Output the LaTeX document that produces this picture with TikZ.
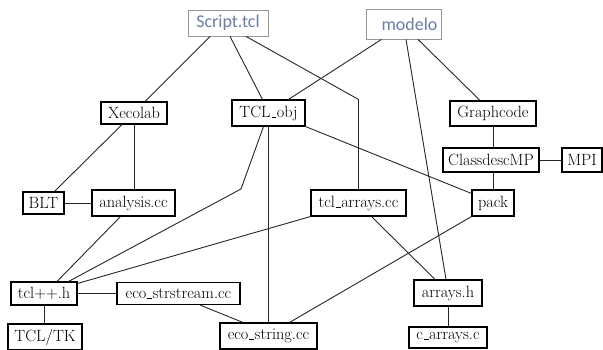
\documentclass[tikz,border=0pt]{standalone}
\usepackage{fontspec}
\newfontfamily\tclsans{Carlito}
\usetikzlibrary{positioning}
\definecolor{scriptblue}{RGB}{105,125,165}
\definecolor{scriptgray}{RGB}{150,150,150}
\newcommand{\us}{\leavevmode\kern.06em\vbox{\hrule width.3em height 0.5pt}\kern.02em}
\tikzstyle{file} = [draw, line width=1.1pt, rectangle, inner sep=0pt, minimum height=24pt, font=\fontsize{16.3}{19}\selectfont]
\tikzstyle{script} = [draw=scriptgray, line width=0.8pt, rectangle, inner sep=0pt, text=scriptblue, font=\tclsans\fontsize{18}{20}\selectfont]
\tikzstyle{dep} = [line width=0.9pt, draw=black!85]

\begin{document}
\begin{tikzpicture}[x=1pt, y=1pt]
\useasboundingbox (0,0) rectangle (603,-349);

\node [script, minimum width=80pt, minimum height=26pt] (script) at (228,-23) {Script.tcl};
\node [script, minimum width=75pt, minimum height=30pt] (modelo) at (403.5,-24) {\hspace{12pt}modelo};

\node [file, minimum width=66pt, minimum height=22pt] (xecolab) at (134,-113) {Xecolab};
\node [file, minimum width=73pt, minimum height=26pt] (tclobj) at (268.5,-113) {TCL\us obj};
\node [file, minimum width=86pt, minimum height=25pt] (graphcode) at (493,-113.5) {Graphcode};
\node [file, minimum width=96pt, below of=graphcode, node distance=46.5pt, xshift=-2pt] (classdesc) {ClassdescMP};
\node [file, minimum width=40pt, right of=classdesc, node distance=91pt] (mpi) {MPI};

\node [file, minimum width=41pt, minimum height=22pt] (blt) at (43.5,-203) {BLT};
\node [file, minimum width=83pt, minimum height=26pt, right of=blt, node distance=90pt] (analysis) {analysis.cc};
\node [file, minimum width=95pt, minimum height=26pt] (tclarrays) at (358.5,-203) {tcl\us arrays.cc};
\node [file, minimum width=42pt, minimum height=26pt, below of=classdesc, node distance=43pt, xshift=2pt] (pack) {pack};

\node [file, minimum width=66pt, minimum height=23pt] (tclh) at (44,-293.5) {tcl++.h};
\node [file, minimum width=123pt, minimum height=22pt, right of=tclh, node distance=134.5pt] (ecostrstream) {eco\us strstream.cc};
\node [file, minimum width=74pt, minimum height=26pt, below of=tclh, node distance=43.5pt, xshift=1pt] (tcltk) {TCL/TK};
\node [file, minimum width=97pt, minimum height=26pt] (ecostring) at (268.5,-336) {eco\us string.cc};
\node [file, minimum width=68pt, minimum height=26pt] (arraysh) at (448,-293) {arrays.h};
\node [file, minimum width=78pt, minimum height=21pt, below of=arraysh, node distance=44.5pt] (carrays) {c\us arrays.c};

\coordinate (bend) at (241,-189);

% top level scripts
\draw [dep] ([xshift=-18pt]script.south) -- ([xshift=11pt]xecolab.north);
\draw [dep] ([xshift=2pt]script.south) -- ([xshift=-6pt]tclobj.north);
\draw [dep] ([xshift=18pt]script.south) -- ([yshift=90pt]tclarrays.north) -- (tclarrays.north);
\draw [dep] ([xshift=-22pt]modelo.south) -- ([xshift=20pt]tclobj.north);
\draw [dep] ([xshift=2.5pt]modelo.south) -- ([xshift=-2pt]arraysh.north);
\draw [dep] ([xshift=14.5pt]modelo.south) -- ([xshift=-13pt]graphcode.north);

% right column
\draw [dep] (graphcode.south) -- (graphcode.south |- classdesc.north);
\draw [dep] (classdesc) -- (mpi);
\draw [dep] (pack.north |- classdesc.south) -- (pack.north);
\draw [dep] (tclobj.south east) -- ([yshift=-4pt]pack.north west);

% left column
\draw [dep] ([xshift=-12pt]xecolab.south) -- ([xshift=11pt]blt.north);
\draw [dep] (xecolab.south) -- (xecolab.south |- analysis.north);
\draw [dep] (blt) -- (analysis);
\draw [dep] ([xshift=-13pt]analysis.south) -- ([xshift=13pt]tclh.north);
\draw [dep] ([xshift=-5pt]tclobj.south) -- (bend) -- ([xshift=-9pt]tclh.north east);
\draw [dep] (tclarrays.south west) -- ([yshift=-2pt]tclh.north east);

% bottom
\draw [dep] (tclobj.south) -- (ecostring.north);
\draw [dep] (tclh) -- (ecostrstream);
\draw [dep] (tclh.south) -- (tclh.south |- tcltk.north);
\draw [dep] ([xshift=21.5pt]ecostrstream.south) -- ([xshift=-25.5pt]ecostring.north);
\draw [dep] (pack.south west) -- ([xshift=21pt]ecostring.north);
\draw [dep] ([xshift=13pt]tclarrays.south) -- ([xshift=-13pt]arraysh.north);
\draw [dep] (arraysh) -- (carrays);

\end{tikzpicture}
\end{document}
